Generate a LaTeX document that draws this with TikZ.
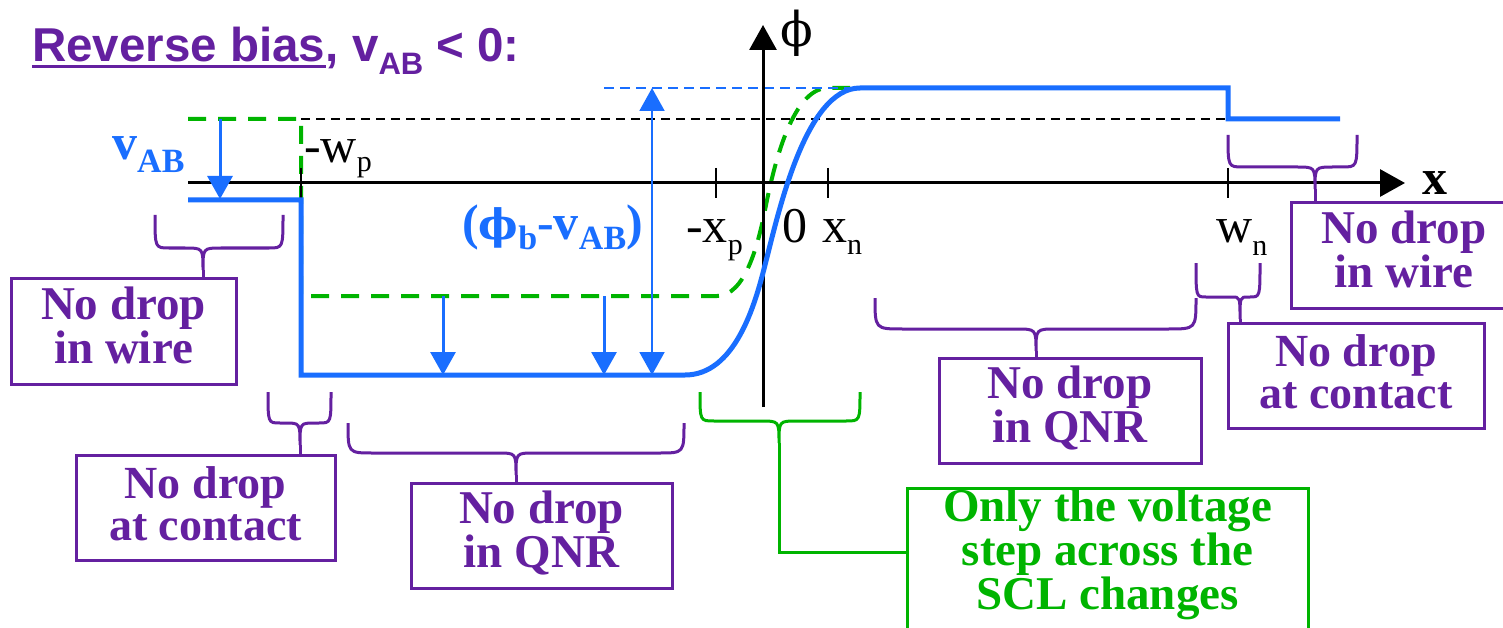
\documentclass[tikz,border=0pt]{standalone}
\usepackage{fontspec}
\usepackage{graphicx}
\setmainfont{Liberation Serif}
\newfontfamily\serifbold{Liberation Serif Bold}
\newfontfamily\arialf{Liberation Sans Bold}
\newfontfamily\phifont{DejaVu Serif}
\usetikzlibrary{arrows.meta}
\definecolor{purp}{RGB}{100,32,160}
\definecolor{blu}{RGB}{25,110,255}
\definecolor{grn}{RGB}{0,180,0}
\newcommand\lowsub[3]{\raisebox{-#1pt}{\fontsize{#2}{#2}\selectfont #3}}
% #1 style, #2 x1, #3 x2, #4 xc, #5 ytop, #6 yh, #7 r, #8 cusp half width, #9 cusp coordinate name
\newcommand\curlyb[9]{%
  \draw[#1] (#2,#5) .. controls (#2,#6) .. (#2+#7,#6) -- (#4-#8,#6) .. controls (#4,#6) .. (#4,#6+22)
            (#3,#5) .. controls (#3,#6) .. (#3-#7,#6) -- (#4+#8,#6) .. controls (#4,#6) .. (#4,#6+22);
  \coordinate (#9) at (#4,#6+22);}
\tikzset{
  axis/.style={line width=3pt, -{Triangle[length=25pt,width=27pt]}},
  tick/.style={line width=2pt},
  kdash/.style={line width=2pt, dash pattern=on 9pt off 6pt},
  bdash/.style={blu, line width=2pt, dash pattern=on 10pt off 6pt},
  gdash/.style={grn, line width=4pt, dash pattern=on 18pt off 12pt},
  bline/.style={blu, line width=5pt},
  barrow/.style={blu, line width=3pt, -{Triangle[length=23pt,width=25pt]}},
  bdbl/.style={blu, line width=2pt, {Triangle[length=23pt,width=25pt]}-{Triangle[length=23pt,width=25pt]}},
  pbr/.style={purp, line width=3pt},
  gbr/.style={grn, line width=3pt},
  pbox/.style={draw=purp, line width=3pt, text=purp, font=\serifbold\fontsize{47}{40}\selectfont,
    align=center, inner sep=0pt, text height=72pt, text depth=8pt},
  pboxc/.style={pbox, font=\serifbold\fontsize{46}{42}\selectfont, text height=74pt, text depth=8pt},
  gboxst/.style={draw=grn, line width=3pt, text=grn, font=\serifbold\fontsize{47}{39}\selectfont,
    align=center, inner xsep=0pt, inner ysep=11pt, text height=110pt, text depth=20pt},
  lab/.style={font=\fontsize{50}{50}\selectfont, inner sep=0pt},
  blab/.style={text=blu, font=\serifbold\fontsize{50}{50}\selectfont, inner sep=0pt},
  ttl/.style={text=purp, font=\arialf\fontsize{47.5}{48}\selectfont, inner sep=0pt}
}
\begin{document}
\begin{tikzpicture}[x=1pt,y=-1pt]
\useasboundingbox (0,0) rectangle (1503,628);
\clip (0,0) rectangle (1503,628);
\fill[white] (0,0) rectangle (1503,628);

% title
\node[ttl, anchor=base west] (t1) at (32,62) {Reverse bias};
\node[ttl, anchor=base west] (t2) at (t1.base east) {, v\lowsub{13}{31}{AB} < 0:};
\draw[purp, line width=3pt] ([yshift=-5pt]t1.base west) -- ([yshift=-5pt]t1.base east);

% dashed reference levels
\draw[gdash] (188,119) -- (301,119) -- (301,296) -- (717,296)
  .. controls (745,296) and (758,245) .. (765,210)
  .. controls (772,175) and (790,88) .. (828,88) -- (850,88);
\draw[kdash] (301,119) -- (1228,119);
\draw[bdash] (604,88) -- (850,88);

% axes
\coordinate (xa0) at (188,183);
\coordinate (xa1) at (1405,183);
\coordinate (ya0) at (763,407);
\coordinate (ya1) at (763,25);
\draw[axis] (xa0) -- (xa1);
\draw[axis] (ya0) -- (ya1);
\foreach \t in {301,716,828,1228} \draw[tick] (\t,168) -- (\t,198);

% potential profile
\draw[bline] (188,200) -- (301,200) -- (301,375) -- (685,375)
  .. controls (735,375) and (755,305) .. (765,265)
  .. controls (778,215) and (805,88) .. (860,88) -- (1228,88) -- (1228,119) -- (1340,119);

% arrows
\coordinate (va0) at (220,119); \coordinate (va1) at (220,199);
\coordinate (qa0) at (443,296); \coordinate (qa1) at (443,375);
\coordinate (qb0) at (604,296); \coordinate (qb1) at (604,375);
\coordinate (da0) at (652,88);  \coordinate (da1) at (652,375);
\draw[barrow] (va0) -- (va1);
\draw[barrow] (qa0) -- (qa1);
\draw[barrow] (qb0) -- (qb1);
\draw[bdbl] (da0) -- (da1);

% labels
\node[lab, anchor=base west] (wp) at (304,163) {-w\lowsub{9}{30}{p}};
\node[lab, anchor=base west] (xp) at (686,243) {-x\lowsub{12}{30}{p}};
\node[lab, anchor=base west] (z0) at (782,243) {0};
\node[lab, anchor=base west] (xn) at (822,243) {x\lowsub{12}{30}{n}};
\node[lab, anchor=base west] (wn) at (1216,243) {w\lowsub{13}{30}{n}};
\node[lab, font=\phifont\fontsize{48}{48}\selectfont] (phil) at (797,33) {ϕ};
\node[lab, font=\serifbold\fontsize{50}{50}\selectfont, anchor=base west] (xl) at (1422,195) {x};
\node[blab, anchor=base west] (vab) at (112,160) {v\lowsub{13}{34}{AB}};
\node[blab, anchor=base west] (dphi) at (462,240) {({\phifont\bfseries\fontsize{42}{42}\selectfont ϕ}\lowsub{10}{34}{b}-v\lowsub{10}{34}{AB})};

% boxes
\node[pbox, minimum width=225pt, minimum height=106pt] (box1) at (123.5,331) {No drop\\in wire};
\node[pboxc, minimum width=259pt, minimum height=105pt] (box2) at (205.5,507.5) {No drop\\at contact};
\node[pbox, minimum width=261pt, minimum height=105pt] (box3) at (541.5,535.5) {No drop\\in QNR};
\node[pbox, minimum width=262pt, minimum height=105pt] (box4) at (1070,410.5) {No drop\\in QNR};
\node[pboxc, minimum width=256pt, minimum height=105pt] (box5) at (1356,375.5) {No drop\\at contact};
\node[pbox, minimum width=226pt, minimum height=105pt] (box6) at (1404,255.5) {No drop\\in wire};
\node[gboxst, minimum width=401pt, anchor=north] (gbox) at (1107.5,487) {Only the voltage\\step across the\\SCL changes};

% braces
\curlyb{pbr}{155}{283}{203}{215}{248}{14}{18}{c1}
\curlyb{pbr}{268}{331}{300}{392}{423}{12}{15}{c2}
\curlyb{pbr}{348}{684}{516}{423}{453}{25}{18}{c3}
\curlyb{pbr}{875}{1196}{1036}{298}{329}{28}{20}{c4}
\curlyb{pbr}{1196}{1260}{1240}{263}{297}{10}{8}{c5}
\curlyb{pbr}{1228}{1357}{1315}{135}{167}{15}{18}{c6}
\curlyb{gbr}{700}{860}{779}{392}{421}{14}{18}{g0}
\draw[pbr] (c1) -- (c1 |- box1.north);
\draw[pbr] (c2) -- (c2 |- box2.north);
\draw[pbr] (c3) -- (c3 |- box3.north);
\draw[pbr] (c4) -- (c4 |- box4.north);
\draw[pbr] (c5) -- (c5 |- box5.north);
\draw[pbr] (c6) -- (c6 |- box6.north);
\draw[gbr] (g0) |- ([yshift=-65pt]gbox.north west);
\end{tikzpicture}
\end{document}
